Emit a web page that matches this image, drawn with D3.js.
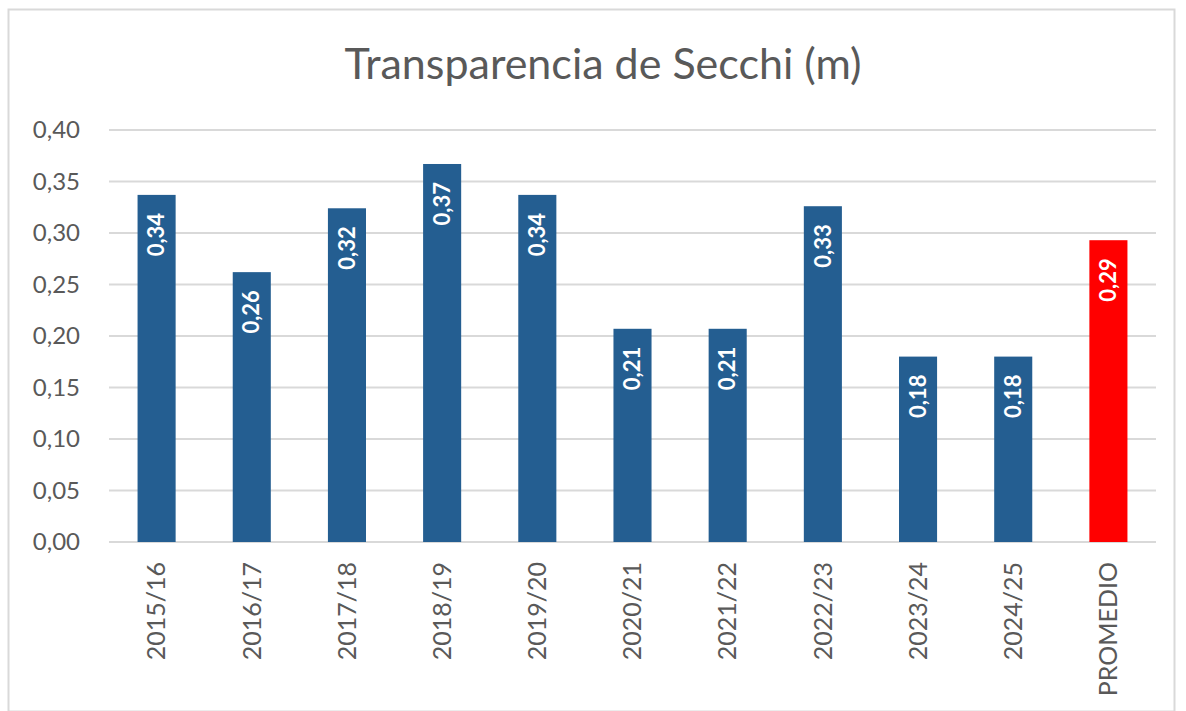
<!DOCTYPE html>
<html>
<head>
<meta charset="utf-8">
<script src="https://cdn.jsdelivr.net/npm/d3@7"></script>
<style>
    body { margin: 0; background: #fff; }
    text { font-family: Lato, "Open Sans", sans-serif; }
</style>
</head>
<body>
<div id="chart"></div>
<script>
var categories = ["2015/16", "2016/17", "2017/18", "2018/19", "2019/20", "2020/21", "2021/22", "2022/23", "2023/24", "2024/25", "PROMEDIO"];
var values = [0.337, 0.262, 0.324, 0.367, 0.337, 0.207, 0.207, 0.326, 0.180, 0.180, 0.293];
var yTicks = [0, 0.05, 0.10, 0.15, 0.20, 0.25, 0.30, 0.35, 0.40];
var title = "Transparencia de Secchi (m)";

var width = 1186, height = 711;
var margin = { top: 130, right: 30, bottom: 169, left: 109 };
var fmt = function (v) { return d3.format(".2f")(v).replace(".", ","); };

var svg = d3.select("#chart")
    .append("svg")
    .attr("width", width)
    .attr("height", height);

// chart border
svg.append("rect")
    .attr("x", 8.5).attr("y", 9.5)
    .attr("width", 1166).attr("height", 702)
    .attr("fill", "none")
    .attr("stroke", "#d9d9d9")
    .attr("stroke-width", 2);

svg.append("text")
    .attr("x", 603)
    .attr("y", 79)
    .attr("text-anchor", "middle")
    .style("font-size", "43px")
    .style("fill", "#595959")
    .text(title);

var x = d3.scaleBand()
    .domain(categories)
    .range([margin.left, 1156])
    .paddingInner(0.6)
    .paddingOuter(0.3);

var y = d3.scaleLinear()
    .domain([0, 0.40])
    .range([542, margin.top]);

// gridlines
svg.append("g")
    .selectAll("line")
    .data(yTicks)
    .enter().append("line")
    .attr("x1", margin.left)
    .attr("x2", 1156)
    .attr("y1", function (d) { return y(d); })
    .attr("y2", function (d) { return y(d); })
    .attr("stroke", "#d9d9d9")
    .attr("stroke-width", 2);

// y tick labels
svg.append("g")
    .selectAll("text")
    .data(yTicks)
    .enter().append("text")
    .attr("x", 80)
    .attr("y", function (d) { return y(d); })
    .attr("dy", "0.35em")
    .attr("text-anchor", "end")
    .style("font-size", "24px")
    .style("fill", "#595959")
    .text(fmt);

// bars
svg.append("g")
    .selectAll("rect")
    .data(categories)
    .enter().append("rect")
    .attr("x", function (d) { return x(d); })
    .attr("y", function (d, i) { return y(values[i]); })
    .attr("width", x.bandwidth())
    .attr("height", function (d, i) { return y(0) - y(values[i]); })
    .attr("fill", function (d) { return d === "PROMEDIO" ? "#ff0000" : "#245e91"; });

// value labels inside bars
svg.append("g")
    .selectAll("text")
    .data(categories)
    .enter().append("text")
    .attr("transform", function (d, i) {
        return "translate(" + (x(d) + x.bandwidth() / 2) + "," + (y(values[i]) + 18) + ") rotate(-90)";
    })
    .attr("dy", "0.35em")
    .attr("text-anchor", "end")
    .style("font-size", "22px")
    .style("font-weight", "bold")
    .style("fill", "#fff")
    .text(function (d, i) { return fmt(values[i]); });

// category labels
svg.append("g")
    .selectAll("text")
    .data(categories)
    .enter().append("text")
    .attr("transform", function (d) {
        return "translate(" + (x(d) + x.bandwidth() / 2) + ",562) rotate(-90)";
    })
    .attr("dy", "0.35em")
    .attr("text-anchor", "end")
    .style("font-size", "25px")
    .style("fill", "#595959")
    .text(function (d) { return d; });
</script>
</body>
</html>
